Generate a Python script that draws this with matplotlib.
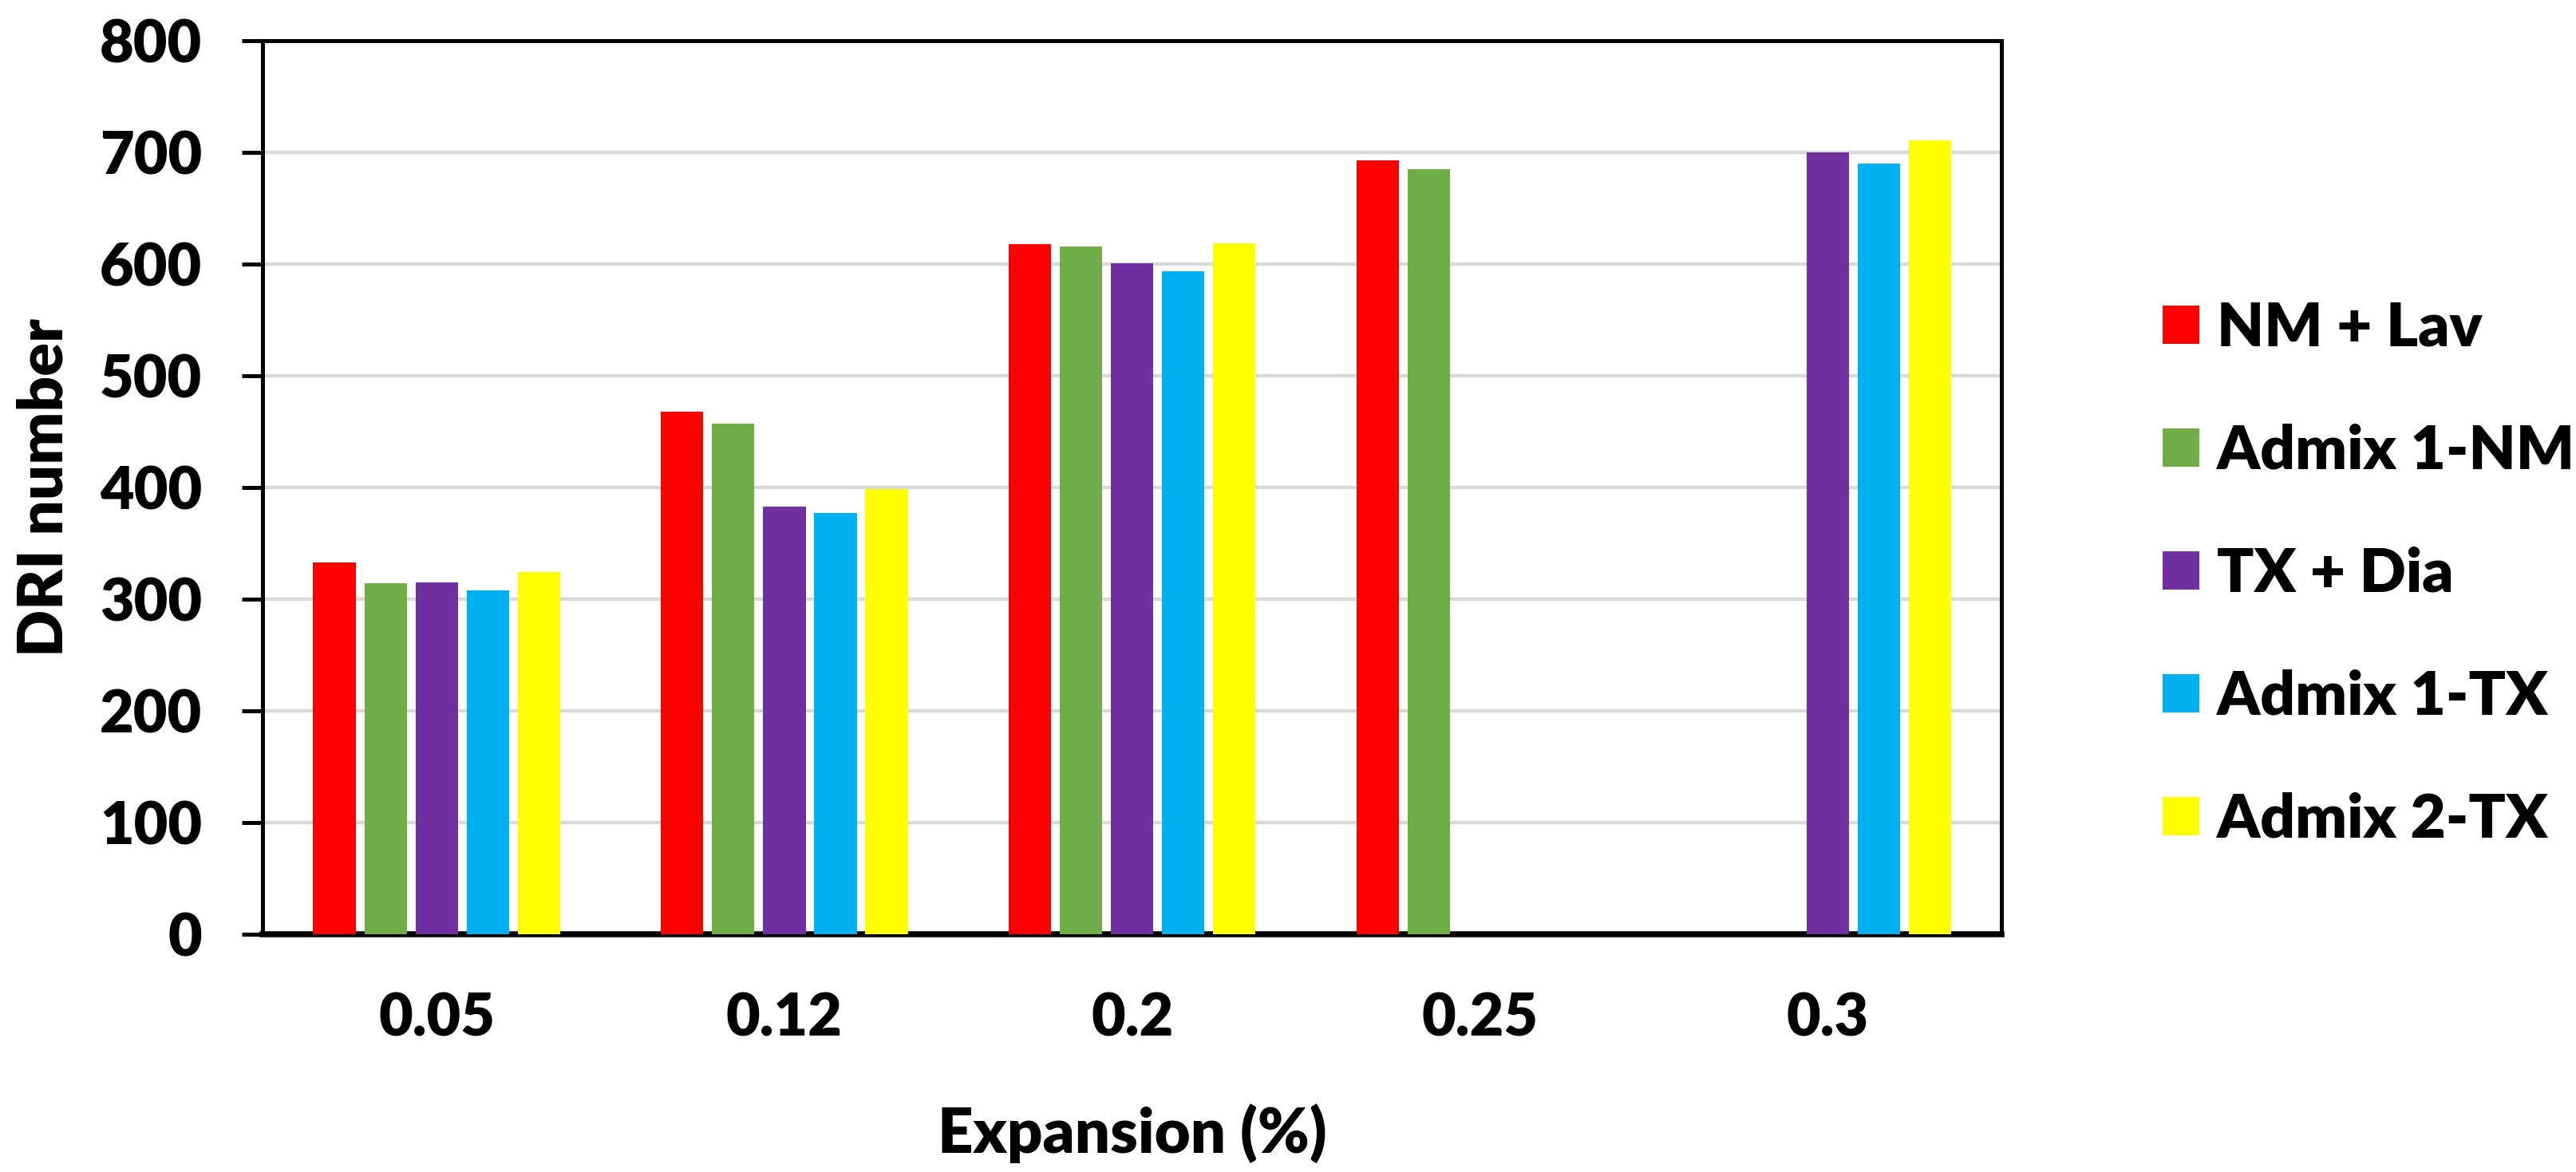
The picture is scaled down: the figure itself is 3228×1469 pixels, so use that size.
import numpy as np
import matplotlib
matplotlib.use("Agg")
import matplotlib.pyplot as plt

categories = ["0.05", "0.12", "0.2", "0.25", "0.3"]
series_names = ["NM + Lav", "Admix 1-NM", "TX + Dia", "Admix 1-TX", "Admix 2-TX"]
nm_lav = [333, 468, 618, 693, np.nan]
admix1_nm = [314, 457, 616, 685, np.nan]
tx_dia = [315, 383, 601, np.nan, 700]
admix1_tx = [308, 377, 594, np.nan, 690]
admix2_tx = [324, 399, 619, np.nan, 711]
colors = ["#FF0000", "#70AD47", "#7030A0", "#00B0F0", "#FFFF00"]
yticks = [0, 100, 200, 300, 400, 500, 600, 700, 800]

W = "heavy"
plt.rcParams['font.family'] = ['Lato', 'DejaVu Sans']
plt.rcParams['font.weight'] = W

fig = plt.figure(figsize=(16.14, 7.345), dpi=200)
ax = fig.add_axes([0.102, 0.203, 0.675, 0.762])

series = [nm_lav, admix1_nm, tx_dia, admix1_tx, admix2_tx]
x = np.arange(len(categories))
step = 0.147
width = 0.122
for j, (vals, name, c) in enumerate(zip(series, series_names, colors)):
    ax.bar(x + (j - 2) * step, vals, width=width, color=c, label=name, zorder=3)

ax.set_xlim(-0.5, 4.5)
ax.set_ylim(0, 800)
ax.set_yticks(yticks)
ax.set_xticks(x)
ax.set_xticklabels(categories)
ax.yaxis.grid(True, color="#D9D9D9", linewidth=1.6, zorder=0)
ax.set_axisbelow(True)

for s in ["left", "top", "right"]:
    ax.spines[s].set_linewidth(1.8)
ax.spines["bottom"].set_linewidth(2.7)
ax.tick_params(axis="y", direction="out", length=9.4, width=1.8, pad=18, labelsize=26.5)
ax.tick_params(axis="x", length=0, pad=26, labelsize=26.5)
for lab in ax.get_xticklabels() + ax.get_yticklabels():
    lab.set_fontweight(W)

ax.set_ylabel("DRI number", fontsize=28, fontweight=W, labelpad=12)
ax.set_xlabel("Expansion (%)", fontsize=28, fontweight=W, labelpad=26)

leg = fig.legend(loc="center left", bbox_to_anchor=(0.830, 0.51), frameon=False,
                 borderaxespad=0,
                 prop={"size": 27.5, "weight": W}, handlelength=0.6, handleheight=0.6,
                 labelspacing=1.1, handletextpad=0.29)

fig.savefig("out.png", dpi=200)
